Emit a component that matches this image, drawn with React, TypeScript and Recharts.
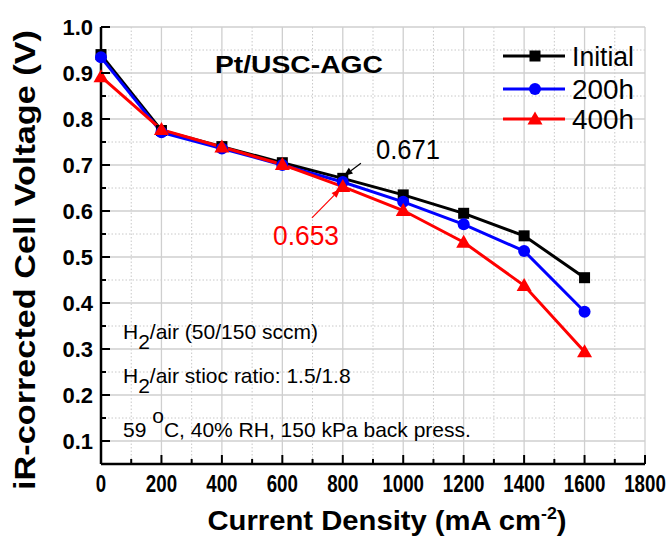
import { CartesianGrid, Legend, Line, LineChart, ReferenceLine, XAxis, YAxis } from 'recharts';

const currents = [0, 200, 400, 600, 800, 1000, 1200, 1400, 1600];
const initialV = [0.94, 0.775, 0.74, 0.705, 0.671, 0.635, 0.595, 0.546, 0.455];
const h200V = [0.934, 0.771, 0.736, 0.7, 0.663, 0.62, 0.571, 0.513, 0.381];
const h400V = [0.892, 0.777, 0.739, 0.701, 0.653, 0.601, 0.532, 0.438, 0.294];

const xMajor = [0, 200, 400, 600, 800, 1000, 1200, 1400, 1600, 1800];
const xMinor = [100, 300, 500, 700, 900, 1100, 1300, 1500, 1700];
const yMajor = [0.1, 0.2, 0.3, 0.4, 0.5, 0.6, 0.7, 0.8, 0.9, 1.0];
const yMinor = [0.05, 0.15, 0.25, 0.35, 0.45, 0.55, 0.65, 0.75, 0.85, 0.95];

const seriesNames = ['Initial', '200h', '400h'];
const seriesColors = ['#000000', '#0000ff', '#ff0000'];
const seriesShapes = ['square', 'circle', 'triangle'];

const data = currents.map((c, i) => ({
  current: c,
  initial: initialV[i],
  h200: h200V[i],
  h400: h400V[i]
}));

const FONT = '"Liberation Sans", Arial, sans-serif';
const xTicks = [...xMajor, ...xMinor].sort((a, b) => a - b);
const yTicks = [...yMajor, ...yMinor].sort((a, b) => a - b);
const isMajorX = (v: number) => xMajor.includes(v);
const isMajorY = (v: number) => yMajor.some((m) => Math.abs(m - v) < 1e-6);

function Marker({ shape, cx, cy, color }: any) {
  if (cx == null || cy == null) return null;
  if (shape === 'square') return <rect x={cx - 5.5} y={cy - 5.5} width={11} height={11} fill={color} />;
  if (shape === 'circle') return <circle cx={cx} cy={cy} r={6} fill={color} />;
  return <polygon points={`${cx},${cy - 7.5} ${cx + 7.5},${cy + 5.5} ${cx - 7.5},${cy + 5.5}`} fill={color} />;
}

function BottomTick({ x, y, payload }: any) {
  const major = isMajorX(payload.value);
  const label = String(payload.value);
  const w = label.length * 10.4;
  return (
    <g>
      <line x1={x} x2={x} y1={y} y2={y - (major ? 9 : 5)} stroke="#000" strokeWidth={2} />
      {major && (
        <text x={x - w / 2} y={y + 28} fontFamily={FONT} fontWeight="bold" fontSize={24}
          textLength={w} lengthAdjust="spacingAndGlyphs">
          {label}
        </text>
      )}
    </g>
  );
}

function TopTick({ x, y, payload }: any) {
  const major = isMajorX(payload.value);
  return <line x1={x} x2={x} y1={y} y2={y + (major ? 9 : 5)} stroke="#000" strokeWidth={2} />;
}

function LeftTick({ x, y, payload }: any) {
  const major = isMajorY(payload.value);
  return (
    <g>
      <line x1={x} x2={x + (major ? 9 : 5)} y1={y} y2={y} stroke="#000" strokeWidth={2} />
      {major && (
        <text x={x - 8} y={y + 8} textAnchor="end" fontFamily={FONT} fontWeight="bold" fontSize={22}>
          {payload.value.toFixed(1)}
        </text>
      )}
    </g>
  );
}

function RightTick({ x, y, payload }: any) {
  const major = isMajorY(payload.value);
  return <line x1={x} x2={x - (major ? 9 : 5)} y1={y} y2={y} stroke="#000" strokeWidth={2} />;
}

function arrowShape(color: string) {
  return (props: any) => {
    const { x1, y1, x2, y2 } = props;
    if (x1 == null) return null;
    const ang = Math.atan2(y2 - y1, x2 - x1);
    const len = 9;
    const w = 3.5;
    const bx = x2 - len * Math.cos(ang);
    const by = y2 - len * Math.sin(ang);
    const px = -Math.sin(ang) * w;
    const py = Math.cos(ang) * w;
    return (
      <g>
        <line x1={x1} y1={y1} x2={bx} y2={by} stroke={color} strokeWidth={1.2} />
        <polygon points={`${x2},${y2} ${bx + px},${by + py} ${bx - px},${by - py}`} fill={color} />
      </g>
    );
  };
}

function LegendBox() {
  const rows = [18, 51, 81];
  return (
    <svg width={170} height={100} style={{ overflow: 'visible' }}>
      {seriesNames.map((name, i) => (
        <g key={name}>
          <line x1={8} x2={70} y1={rows[i]} y2={rows[i]} stroke={seriesColors[i]} strokeWidth={3} />
          <Marker shape={seriesShapes[i]} cx={40} cy={rows[i]} color={seriesColors[i]} />
          <text x={77} y={rows[i] + 9.5} fontFamily={FONT} fontSize={27} fill="#000"
            textLength={62} lengthAdjust="spacingAndGlyphs">
            {name}
          </text>
        </g>
      ))}
    </svg>
  );
}

export default function App() {
  const keys = ['initial', 'h200', 'h400'];
  return (
    <div style={{ position: 'absolute', left: 0, top: 0, background: '#fff' }}>
      <LineChart width={671} height={537} data={data} margin={{ top: 27, right: 26, bottom: 0, left: 0 }}>
        <CartesianGrid horizontalValues={yMinor} verticalValues={xMinor} stroke="#c8c8c8"
          strokeDasharray="1.5 2" strokeWidth={1} />
        <CartesianGrid horizontalValues={yMajor} verticalValues={xMajor} stroke="#cfcfcf" strokeWidth={1.3} />

        <XAxis dataKey="current" type="number" domain={[0, 1800]} ticks={xTicks} interval={0}
          height={73} tickSize={0} tickMargin={0} tick={<BottomTick />}
          axisLine={{ stroke: '#000', strokeWidth: 2.5 }} tickLine={false} />
        <XAxis xAxisId="top" orientation="top" dataKey="current" type="number" domain={[0, 1800]}
          ticks={xTicks} interval={0} height={0} tickSize={0} tickMargin={0} tick={<TopTick />}
          axisLine={{ stroke: '#000', strokeWidth: 2.5 }} tickLine={false} />
        <YAxis type="number" domain={[0.05, 1.0]} ticks={yTicks} interval={0} width={101}
          tickSize={0} tickMargin={0} tick={<LeftTick />} allowDataOverflow
          axisLine={{ stroke: '#000', strokeWidth: 2.5 }} tickLine={false} />
        <YAxis yAxisId="right" orientation="right" type="number" domain={[0.05, 1.0]} ticks={yTicks}
          interval={0} width={0} tickSize={0} tickMargin={0} tick={<RightTick />} allowDataOverflow
          axisLine={{ stroke: '#000', strokeWidth: 2.5 }} tickLine={false} />

        {keys.map((k, i) => (
          <Line key={k} dataKey={k} name={seriesNames[i]} stroke={seriesColors[i]} strokeWidth={3}
            isAnimationActive={false}
            dot={(p: any) => <Marker key={`${k}-${p.index}`} shape={seriesShapes[i]} cx={p.cx} cy={p.cy} color={seriesColors[i]} />}
            activeDot={false} />
        ))}

        <ReferenceLine segment={[{ x: 860, y: 0.704 }, { x: 803, y: 0.676 }]} shape={arrowShape('#000')} ifOverflow="visible" />
        <ReferenceLine segment={[{ x: 698, y: 0.585 }, { x: 792, y: 0.648 }]} shape={arrowShape('#ff0000')} ifOverflow="visible" />

        <Legend layout="horizontal" align="center" verticalAlign="middle" content={<LegendBox />}
          wrapperStyle={{ position: 'absolute', left: 495, top: 38, width: 170, height: 100 }} />

        <text x={215} y={73} fontFamily={FONT} fontWeight="bold" fontSize={24} textLength={168}
          lengthAdjust="spacingAndGlyphs">Pt/USC-AGC</text>

        <text x={376} y={159} fontFamily={FONT} fontSize={27} textLength={64} lengthAdjust="spacingAndGlyphs">0.671</text>
        <text x={273} y={245} fontFamily={FONT} fontSize={27} fill="#ff0000" textLength={66}
          lengthAdjust="spacingAndGlyphs">0.653</text>

        <text x={123} y={339} fontFamily={FONT} fontSize={21}>
          H<tspan dy={10}>2</tspan><tspan dy={-10}>/air (50/150 sccm)</tspan>
        </text>
        <text x={123} y={383} fontFamily={FONT} fontSize={21}>
          H<tspan dy={10}>2</tspan><tspan dy={-10}>/air stioc ratio: 1.5/1.8</tspan>
        </text>
        <text x={123} y={437} fontFamily={FONT} fontSize={21}>
          59 <tspan dy={-14}>o</tspan><tspan dy={14}>C, 40% RH, 150 kPa back press.</tspan>
        </text>

        <text x={387} y={530} textAnchor="middle" fontFamily={FONT} fontWeight="bold" fontSize={28}
          textLength={359} lengthAdjust="spacingAndGlyphs">
          Current Density (mA cm<tspan dy={-11} fontSize={17}>-2</tspan><tspan dy={11}>)</tspan>
        </text>

        <text transform="translate(35, 260) rotate(-90)" textAnchor="middle" fontFamily={FONT}
          fontWeight="bold" fontSize={30} textLength={460} lengthAdjust="spacingAndGlyphs">
          iR-corrected Cell Voltage (V)
        </text>
      </LineChart>
    </div>
  );
}
